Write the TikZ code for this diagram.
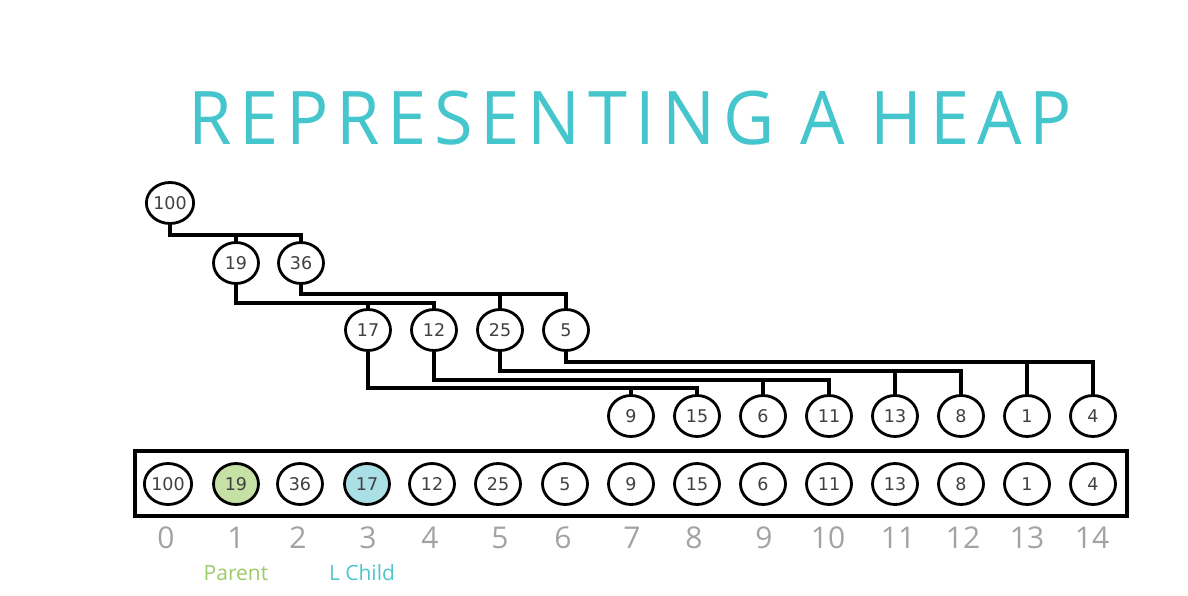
\documentclass[tikz,border=0pt]{standalone}
\usepackage{fontspec}
\setmainfont{Open Sans}
\newfontfamily\keyfont{DejaVu Sans}
\newfontfamily\titlefont[FakeStretch=0.95, LetterSpace=10.5]{Open Sans}
\usetikzlibrary{shapes.geometric}
\definecolor{titlecyan}{HTML}{45C6CC}
\definecolor{idxgray}{HTML}{A3A3A3}
\definecolor{keytext}{HTML}{404040}
\definecolor{parentfill}{HTML}{C6E1A6}
\definecolor{childfill}{HTML}{A9DFE5}
\definecolor{parentlabel}{HTML}{9CCB6A}
\definecolor{childlabel}{HTML}{4EC6CE}
\tikzset{
  keynode/.style={ellipse, draw=black, line width=2.8pt, minimum width=45pt,
    minimum height=41pt, inner sep=0pt, fill=white,
    font=\keyfont\fontsize{17.5}{17.5}\selectfont, text=keytext},
  link/.style={line width=3.1pt, line cap=rect},
  idx/.style={font=\fontsize{30}{30}\selectfont, text=idxgray, inner sep=0pt},
  rolelabel/.style={font=\fontsize{21}{21}\selectfont, inner sep=0pt},
}
\begin{document}
\begin{tikzpicture}[x=1pt,y=-1pt]
\useasboundingbox (0,0) rectangle (1188,596);
\fill[white] (0,0) rectangle (1188,596);

% title
\node[font=\titlefont\fontsize{74}{74}\selectfont, text=titlecyan, inner sep=0pt, anchor=base west] (title) at (188,145) {REPRESENTING A HEAP};

% tree levels
\node[keynode] (t0) at (170,203) {100};
\node[keynode] (t1) at (236,263) {19};
\node[keynode] (t2) at (301,263) {36};
\node[keynode] (t3) at (368,330) {17};
\node[keynode] (t4) at (434,330) {12};
\node[keynode] (t5) at (500,330) {25};
\node[keynode] (t6) at (566,330) {5};
\node[keynode] (t7) at (631,416) {9};
\node[keynode] (t8) at (697,416) {15};
\node[keynode] (t9) at (763,416) {6};
\node[keynode] (t10) at (829,416) {11};
\node[keynode] (t11) at (895,416) {13};
\node[keynode] (t12) at (961,416) {8};
\node[keynode] (t13) at (1027,416) {1};
\node[keynode] (t14) at (1093,416) {4};

% parent-to-children brackets
\coordinate (b0) at (t0.south |- 0,235);
\coordinate (b1) at (t1.south |- 0,303);
\coordinate (b2) at (t2.south |- 0,294);
\coordinate (b3) at (t3.south |- 0,388);
\coordinate (b4) at (t4.south |- 0,380);
\coordinate (b5) at (t5.south |- 0,371);
\coordinate (b6) at (t6.south |- 0,362);
\draw[link] (t0.south) -- (b0) -| (t2.north);
\draw[link] (t1.north) -- (t1.north |- b0);
\draw[link] (t1.south) -- (b1) -| (t4.north);
\draw[link] (t3.north) -- (t3.north |- b1);
\draw[link] (t2.south) -- (b2) -| (t6.north);
\draw[link] (t5.north) -- (t5.north |- b2);
\draw[link] (t3.south) -- (b3) -| (t8.north);
\draw[link] (t7.north) -- (t7.north |- b3);
\draw[link] (t4.south) -- (b4) -| (t10.north);
\draw[link] (t9.north) -- (t9.north |- b4);
\draw[link] (t5.south) -- (b5) -| (t12.north);
\draw[link] (t11.north) -- (t11.north |- b5);
\draw[link] (t6.south) -- (b6) -| (t14.north);
\draw[link] (t13.north) -- (t13.north |- b6);

% array storage
\node[draw=black, line width=3.1pt, minimum width=992pt, minimum height=65pt, inner sep=0pt] (arr) at (631,483.5) {};
\node[keynode] (a0) at (168,484) {100};
\node[keynode, fill=parentfill] (a1) at (236,484) {19};
\node[keynode] (a2) at (300,484) {36};
\node[keynode, fill=childfill] (a3) at (367,484) {17};
\node[keynode] (a4) at (432,484) {12};
\node[keynode] (a5) at (498,484) {25};
\node[keynode] (a6) at (565,484) {5};
\node[keynode] (a7) at (631,484) {9};
\node[keynode] (a8) at (697,484) {15};
\node[keynode] (a9) at (763,484) {6};
\node[keynode] (a10) at (829,484) {11};
\node[keynode] (a11) at (895,484) {13};
\node[keynode] (a12) at (961,484) {8};
\node[keynode] (a13) at (1027,484) {1};
\node[keynode] (a14) at (1093,484) {4};

% indices
\node[idx] (i0) at (166,538) {0};
\node[idx] (i1) at (236,538) {1};
\node[idx] (i2) at (298,538) {2};
\node[idx] (i3) at (368,538) {3};
\node[idx] (i4) at (430,538) {4};
\node[idx] (i5) at (500,538) {5};
\node[idx] (i6) at (563,538) {6};
\node[idx] (i7) at (632,538) {7};
\node[idx] (i8) at (694,538) {8};
\node[idx] (i9) at (764,538) {9};
\node[idx] (i10) at (828,538) {10};
\node[idx] (i11) at (898,538) {11};
\node[idx] (i12) at (963,538) {12};
\node[idx] (i13) at (1027,538) {13};
\node[idx] (i14) at (1092,538) {14};

% role labels
\node[rolelabel, text=parentlabel] (parent) at (236,573) {Parent};
\node[rolelabel, text=childlabel] (lchild) at (362,573) {L Child};
\end{tikzpicture}
\end{document}
